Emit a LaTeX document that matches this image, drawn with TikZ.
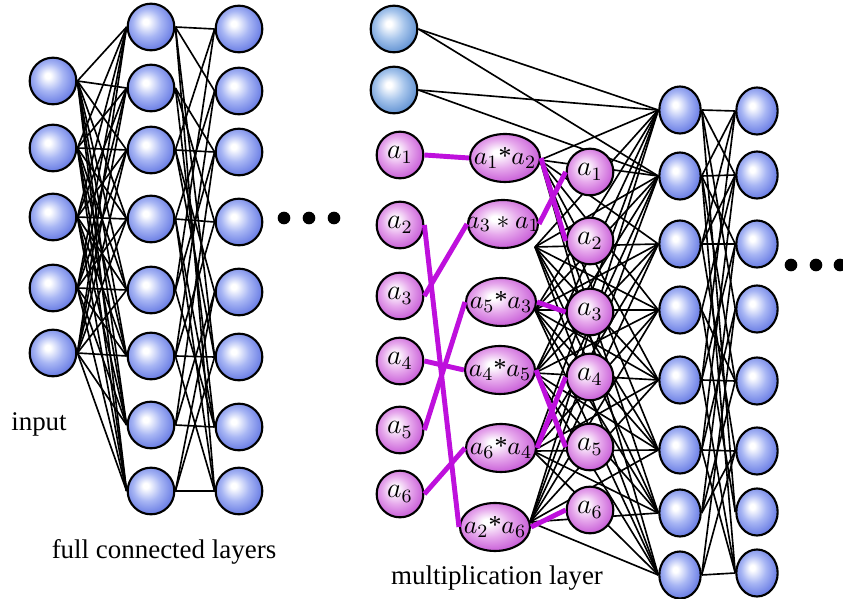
\documentclass[tikz,border=0pt]{standalone}
\usepackage{fontspec}
\setmainfont{Liberation Serif}
\usetikzlibrary{shapes.geometric,backgrounds}

\definecolor{ballblue}{RGB}{98,118,226}
\definecolor{ballbluemid}{RGB}{168,182,244}
\definecolor{ballpurple}{RGB}{198,88,214}
\definecolor{ballpurplemid}{RGB}{230,168,236}
\definecolor{ballsteel}{RGB}{92,142,208}
\definecolor{ballsteelmid}{RGB}{168,198,236}
\definecolor{linkpurple}{RGB}{190,16,220}

\pgfdeclareradialshading{blueball}{\pgfpoint{-6bp}{6bp}}{color(0bp)=(white); color(3bp)=(white); color(15bp)=(ballbluemid); color(29bp)=(ballblue); color(50bp)=(ballblue)}
\pgfdeclareradialshading{purpleball}{\pgfpoint{-6bp}{6bp}}{color(0bp)=(white); color(3bp)=(white); color(15bp)=(ballpurplemid); color(29bp)=(ballpurple); color(50bp)=(ballpurple)}
\pgfdeclareradialshading{steelball}{\pgfpoint{-6bp}{6bp}}{color(0bp)=(white); color(3bp)=(white); color(15bp)=(ballsteelmid); color(29bp)=(ballsteel); color(50bp)=(ballsteel)}

\begin{document}
\begin{tikzpicture}[x=0.015cm,y=-0.015cm,
  neuron/.style={circle,draw=black,line width=0.9pt,shading=blueball,minimum size=0.7cm,inner sep=0pt},
  bias/.style={neuron,shading=steelball},
  var/.style={neuron,shading=purpleball,font=\fontsize{12}{14}\selectfont},
  prod/.style={ellipse,draw=black,line width=0.9pt,shading=purpleball,minimum width=1.05cm,minimum height=0.72cm,inner sep=0pt,font=\fontsize{11}{13}\selectfont},
  oval/.style={ellipse,draw=black,line width=0.9pt,shading=blueball,minimum width=0.62cm,minimum height=0.705cm,inner sep=0pt},
  wire/.style={line width=0.7pt},
  mult/.style={line width=2.1pt,draw=linkpurple},
  dot/.style={circle,fill=black,minimum size=0.19cm,inner sep=0pt},
  caption/.style={font=\fontsize{11.5}{13}\selectfont}]
  \useasboundingbox (0,0) rectangle (843,599);

  % full connected part
  \foreach \y [count=\i] in {81,148,217,288,353}
    \node[neuron] (in\i) at (53,\y) {};
  \foreach \y [count=\i] in {27,88,150,219,290,356,425,491}
    \node[neuron] (f\i) at (151,\y) {};
  \foreach \y [count=\i] in {29,91,152,222,292,357,427,491}
    \node[neuron] (g\i) at (239,\y) {};
  \node[caption] (inlabel) at (39,424) {input};
  \node[caption] (fclabel) at (164,552) {full connected layers};
  \foreach \x [count=\k] in {284,309,334}
    \node[dot] (ldot\k) at (\x,218) {};

  % multiplication part
  \node[bias] (c1) at (394,29) {};
  \node[bias] (c2) at (394,90) {};
  \foreach \y [count=\i] in {155,225,296,361,430,494}
    \node[var] (a\i) at (400,\y) {$a_\i$};
  \node[prod] (p1) at (505,158) {\makebox[0pt]{$a_1$*$a_2$}};
  \node[prod] (p2) at (503,224) {\makebox[0pt]{$a_3 * a_1$}};
  \node[prod] (p3) at (501,302) {\makebox[0pt]{$a_5$*$a_3$}};
  \node[prod] (p4) at (500,370) {\makebox[0pt]{$a_4$*$a_5$}};
  \node[prod] (p5) at (501,448) {\makebox[0pt]{$a_6$*$a_4$}};
  \node[prod] (p6) at (495,527) {\makebox[0pt]{$a_2$*$a_6$}};
  \foreach \y [count=\i] in {172,241,312,377,447,510}
    \node[var] (o\i) at (590,\y) {$a_\i$};
  \node[caption] (mllabel) at (497,578) {multiplication layer};
  \foreach \x/\y [count=\i] in {540/160,535/247,535/310,535/373,533/451,530/522}
    \coordinate (h\i) at (\x,\y);

  % second full connected part
  \foreach \y [count=\i] in {110,176,244,310,380,450,513,575}
    \node[oval] (r\i) at (680,\y) {};
  \foreach \y [count=\i] in {111,175,244,309,381,451,512,573}
    \node[oval] (s\i) at (757,\y) {};
  \foreach \x [count=\k] in {791,816,840}
    \node[dot] (rdot\k) at (\x,265) {};

  \begin{scope}[on background layer]
    \foreach \i in {1,...,5}
      \foreach \j in {1,...,8}
        \draw[wire] (in\i.east) -- (f\j.west);
    \foreach \i/\j in {1/1,1/2,1/6,1/8,2/3,2/4,2/7,3/3,3/1,3/5,3/6,4/4,4/2,4/7,4/8,
                       5/3,5/7,5/1,6/6,6/8,6/4,6/2,7/7,7/5,7/3,8/8,8/5,8/6}
      \draw[wire] (f\i.east) -- (g\j.west);
    \foreach \i in {1,...,6}
      \foreach \j in {1,...,8}
        \draw[wire] (h\i) -- (r\j.west);
    \foreach \i in {1,2}
      \foreach \j in {1,2}
        \draw[wire] (c\i.east) -- (r\j.west);
    \foreach \i/\j in {1/1,1/2,1/4,1/7,2/2,2/1,2/3,2/5,2/8,3/3,3/1,3/2,3/6,4/2,4/5,4/7,
                       5/5,5/3,5/1,5/8,6/6,6/4,6/2,6/8,7/5,7/6,7/3,8/8,8/6,8/4}
      \draw[wire] (r\i.east) -- (s\j.west);
  \end{scope}

  % products
  \foreach \u/\v in {a1/p1,a2/p6,a3/p2,a4/p4,a5/p3,a6/p5,p1/o2,p2/o1,p3/o3,p4/o5,p5/o4,p6/o6}
    \draw[mult] (\u.east) -- (\v.west);
\end{tikzpicture}
\end{document}
